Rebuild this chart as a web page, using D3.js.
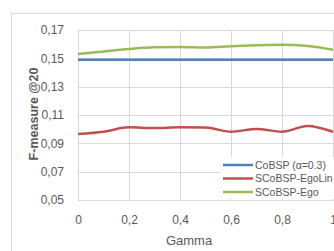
<!DOCTYPE html>
<html>
<head>
<meta charset="utf-8">
<script src="https://cdn.jsdelivr.net/npm/d3@7"></script>
<style>
  body { margin: 0; background: #fff; }
  svg { display: block; font-family: "Liberation Sans", Arial, sans-serif; }
  .tick text { fill: #595959; font-size: 12px; }
</style>
</head>
<body>
<div id="app"></div>
<script>
let gamma = [0, 0.1, 0.2, 0.3, 0.4, 0.5, 0.6, 0.7, 0.8, 0.9, 1.0];
let cobsp = [0.149, 0.149, 0.149, 0.149, 0.149, 0.149, 0.149, 0.149, 0.149, 0.149, 0.149];
let egoLin = [0.0966, 0.0982, 0.1013, 0.1008, 0.1013, 0.1012, 0.0982, 0.1001, 0.0982, 0.1022, 0.0982];
let ego = [0.1531, 0.1548, 0.1566, 0.1578, 0.1580, 0.1576, 0.1585, 0.1592, 0.1596, 0.1587, 0.1561];

let seriesNames = ["CoBSP (α=0.3)", "SCoBSP-EgoLin", "SCoBSP-Ego"];
let seriesColors = ["#4F81BD", "#C0504D", "#9BBB59"];
let xTicks = [0, 0.2, 0.4, 0.6, 0.8, 1];
let yTicks = [0.05, 0.07, 0.09, 0.11, 0.13, 0.15, 0.17];

let svgWidth = 334, svgHeight = 251;
let margin = {top: 30, left: 78, bottom: 51, right: 1};

let svg = d3.select("#app").append("svg")
    .attr("width", svgWidth)
    .attr("height", svgHeight);

// chart border (cut off at right/bottom)
svg.append("rect")
    .attr("x", 11.5).attr("y", 13.5)
    .attr("width", 400).attr("height", 300)
    .attr("fill", "#fff")
    .attr("stroke", "#d9d9d9");

let x = d3.scaleLinear().domain([0, 1]).range([margin.left, svgWidth - margin.right]);
let y = d3.scaleLinear().domain([0.05, 0.17]).range([svgHeight - margin.bottom, margin.top]);

let fmt = d => d3.format(".2f")(d).replace(".", ",");

// gridlines
svg.append("g")
    .selectAll("line.h")
    .data(yTicks)
    .enter().append("line")
        .attr("x1", x(0)).attr("x2", x(1) + 5)
        .attr("y1", d => Math.round(y(d)) + 0.5)
        .attr("y2", d => Math.round(y(d)) + 0.5)
        .attr("stroke", "#d9d9d9");

svg.append("g")
    .selectAll("line.v")
    .data(xTicks)
    .enter().append("line")
        .attr("x1", d => Math.round(x(d)) + 0.5)
        .attr("x2", d => Math.round(x(d)) + 0.5)
        .attr("y1", y(0.17)).attr("y2", y(0.05))
        .attr("stroke", "#d9d9d9");

// axes
let yAxis = svg.append("g")
    .attr("transform", `translate(${x(0) - 11},0)`)
    .call(d3.axisLeft(y).tickValues(yTicks).tickFormat(fmt).tickSize(0));
yAxis.select(".domain").remove();

let xAxis = svg.append("g")
    .attr("transform", `translate(0,${y(0.05) + 12})`)
    .call(d3.axisBottom(x).tickValues(xTicks).tickFormat(d => d === 0 || d === 1 ? String(d) : d3.format(".1f")(d).replace(".", ",")).tickSize(0));
xAxis.select(".domain").remove();

// axis titles
svg.append("text")
    .attr("x", 189).attr("y", 245)
    .attr("text-anchor", "middle")
    .attr("fill", "#595959")
    .attr("font-size", "13px")
    .text("Gamma");

svg.append("text")
    .attr("transform", "translate(38,114) rotate(-90)")
    .attr("text-anchor", "middle")
    .attr("fill", "#595959")
    .attr("font-size", "12.5px")
    .attr("font-weight", "bold")
    .text("F-measure @20");

// lines
let allSeries = [cobsp, egoLin, ego];
let line = d3.line()
    .x((d, i) => x(gamma[i]))
    .y(d => y(d))
    .curve(d3.curveMonotoneX);

svg.append("g")
    .selectAll("path")
    .data(allSeries)
    .enter().append("path")
        .attr("d", line)
        .attr("fill", "none")
        .attr("stroke", (d, i) => seriesColors[i])
        .attr("stroke-width", 2.5);

// legend
let legend = svg.append("g");
legend.append("rect")
    .attr("x", 221).attr("y", 157)
    .attr("width", 120).attr("height", 42)
    .attr("fill", "#fff");

let items = legend.selectAll("g.item")
    .data(seriesNames)
    .enter().append("g")
        .attr("transform", (d, i) => `translate(223,${165 + i * 13.5})`);

items.append("line")
    .attr("x1", 0).attr("x2", 30)
    .attr("stroke", (d, i) => seriesColors[i])
    .attr("stroke-width", 2.5);

items.append("text")
    .attr("x", 32).attr("dy", "0.35em")
    .attr("fill", "#595959")
    .attr("font-size", "10.5px")
    .text(d => d);
</script>
</body>
</html>
